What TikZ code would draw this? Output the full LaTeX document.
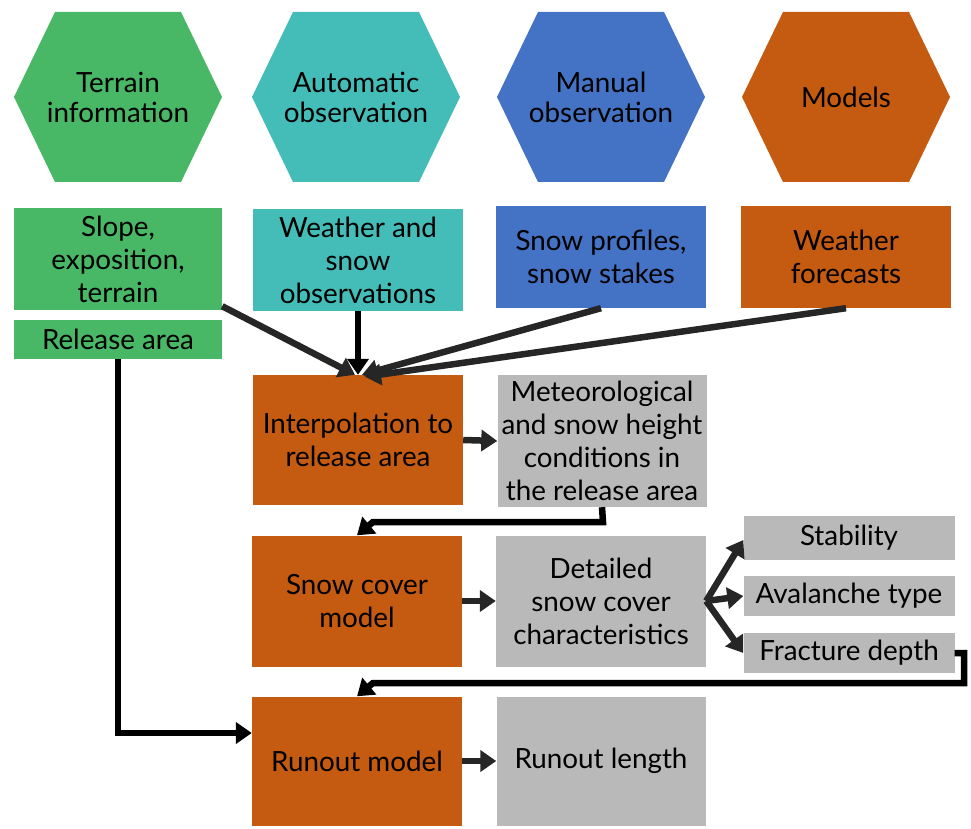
\documentclass[tikz,border=0pt]{standalone}
\usepackage{fontspec}
\setmainfont{Lato}
\usetikzlibrary{arrows.meta}
\definecolor{cgreen}{HTML}{48B766}
\definecolor{cteal}{HTML}{44BDB8}
\definecolor{cblue}{HTML}{4472C4}
\definecolor{corange}{HTML}{C55A11}
\definecolor{cgray}{HTML}{BAB9BA}
\definecolor{arrgray}{HTML}{262626}
\tikzset{
  box/.style={rectangle, inner sep=0pt, align=center, font=\fontsize{27.8}{33}\selectfont, text=black},
  hexlabel/.style={inner sep=0pt, align=center, font=\fontsize{27.8}{30}\selectfont, text=black},
  arr/.style={line width=6.5pt, line join=miter, -{Triangle[length=16pt,width=21pt]}, draw=arrgray},
  arrb/.style={arr, draw=black},
}
\newcommand{\hexa}[5]{%
  \fill[#3] (#1-104,#2) -- (#1-63,#2-85) -- (#1+63,#2-85) -- (#1+104,#2) -- (#1+63,#2+85) -- (#1-63,#2+85) -- cycle;
  \node[hexlabel] (#4) at (#1,#2) {#5};
}
\begin{document}
\begin{tikzpicture}[x=1pt,y=-1pt]
\useasboundingbox (0,0) rectangle (971,829);
% hexagons
\hexa{118}{97}{cgreen}{hterrain}{Terrain\\information}
\hexa{356}{97}{cteal}{hauto}{Automatic\\observation}
\hexa{601}{97}{cblue}{hmanual}{Manual\\observation}
\hexa{846}{97}{corange}{hmodels}{Models}
% second row
\node[box, fill=cgreen, minimum width=208pt, minimum height=102pt] (slope) at (118,259) {Slope,\\exposition,\\terrain};
\node[box, fill=cgreen, minimum width=208pt, minimum height=39pt] (release) at (118,339.5) {Release area};
\node[box, fill=cteal, minimum width=210pt, minimum height=102pt] (wobs) at (358,260) {Weather and\\snow\\observations};
\node[box, fill=cblue, minimum width=210pt, minimum height=102pt] (prof) at (601,257) {Snow profiles,\\snow stakes};
\node[box, fill=corange, minimum width=210pt, minimum height=102pt] (fore) at (846,257) {Weather\\forecasts};
% process
\node[box, fill=corange, minimum width=210pt, minimum height=130pt] (interp) at (358,440) {Interpolation to\\release area};
\node[box, fill=cgray, minimum width=209pt, minimum height=132pt] (met) at (602,441) {Meteorological\\and snow height\\conditions in\\the release area};
\node[box, fill=corange, minimum width=210pt, minimum height=131pt] (snow) at (357,601) {Snow cover\\model};
\node[box, fill=cgray, minimum width=210pt, minimum height=131pt] (det) at (601,601) {Detailed\\snow cover\\characteristics};
\node[box, fill=cgray, minimum width=211pt, minimum height=44pt] (stab) at (849,538) {Stability};
\node[box, fill=cgray, minimum width=211pt, minimum height=40pt] (aval) at (849,596) {Avalanche type};
\node[box, fill=cgray, minimum width=211pt, minimum height=40pt] (frac) at (849,653) {Fracture depth};
\node[box, fill=corange, minimum width=210pt, minimum height=129pt] (run) at (357,761) {Runout model};
\node[box, fill=cgray, minimum width=209pt, minimum height=129pt] (runl) at (601,761) {Runout length};
% arrows into interpolation
\draw[arr] ([yshift=4pt]slope.south east) -- ([xshift=-3pt]interp.north);
\draw[arrb] (wobs.south) -- (interp.north);
\draw[arr] (prof.south) -- ([xshift=4pt]interp.north);
\draw[arr] (fore.south) -- ([xshift=7pt,yshift=-2pt]interp.north);
% horizontal arrows
\draw[arr] (interp.east) -- (met.west);
\draw[arr] (snow.east) -- (det.west);
\draw[arr] (run.east) -- (runl.west);
% met -> snow cover
\coordinate (m1) at (603,522);
\coordinate (m2) at (373,522);
\draw[arrb] (met.south) -- (m1) -- (m2) -- (snow.north);
% detailed -> outputs
\draw[arr] (det.east) -- ([yshift=-2pt]stab.west);
\draw[arr] (det.east) -- (aval.west);
\draw[arr] (det.east) -- (frac.west);
% fracture -> runout
\coordinate (f1) at (964,653);
\coordinate (f2) at (964,683);
\coordinate (f3) at (373,683);
\draw[arrb] (frac.east) -- (f1) -- (f2) -- (f3) -- (run.north);
% release -> runout
\draw[arrb] (release.south) |- ([yshift=28pt]run.west);
\end{tikzpicture}
\end{document}
